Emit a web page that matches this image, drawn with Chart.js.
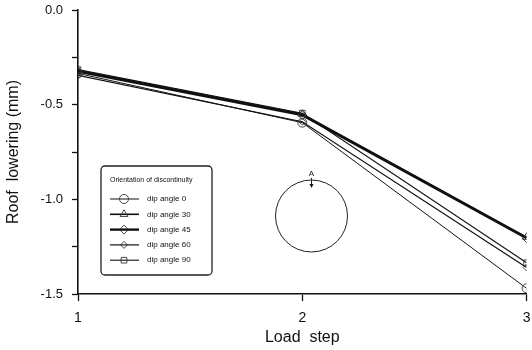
<!DOCTYPE html>
<html>
<head>
<meta charset="utf-8">
<script src="https://cdn.jsdelivr.net/npm/chart.js@4/dist/chart.umd.min.js"></script>
<style>
  html, body { margin: 0; padding: 0; background: #fff; }
  #chart { display: block; }
</style>
</head>
<body>
<canvas id="chart" width="532" height="350"></canvas>
<script>
const loadSteps = [1, 2, 3];
const dipLabels = ['dip angle 0', 'dip angle 30', 'dip angle 45', 'dip angle 60', 'dip angle 90'];
const dip0 = [-0.335, -0.595, -1.47];
const dip30 = [-0.32, -0.55, -1.2];
const dip45 = [-0.325, -0.555, -1.205];
const dip60 = [-0.345, -0.59, -1.36];
const dip90 = [-0.315, -0.545, -1.335];
const yTicks = [0, -0.5, -1.0, -1.5];

const FONT = "'Liberation Sans', Arial, sans-serif";

const seriesValues = [dip0, dip30, dip45, dip60, dip90];
const styles = [
    { pointStyle: 'circle', radius: 4.5, width: 1 },
    { pointStyle: 'triangle', radius: 4.5, width: 1.6 },
    { pointStyle: 'rectRot', radius: 4.5, width: 2.4 },
    { pointStyle: 'rectRot', radius: 3.5, width: 1.2 },
    { pointStyle: 'rect', radius: 4, width: 1.1 },
];

const datasets = seriesValues.map((vals, i) => ({
    label: dipLabels[i],
    data: vals.map((v, j) => ({ x: loadSteps[j], y: v })),
    borderColor: '#111',
    borderWidth: styles[i].width,
    pointStyle: styles[i].pointStyle,
    pointRadius: styles[i].radius,
    pointBorderWidth: 0.9,
    pointBorderColor: '#333',
    pointBackgroundColor: 'rgba(0,0,0,0)',
    fill: false,
    tension: 0,
}));

// boxed legend inside the plot plus the tunnel sketch
const insetPlugin = {
    id: 'inset',
    afterDraw(chart) {
        const ctx = chart.ctx;
        ctx.save();

        // legend frame
        const bx = 101, by = 166, bw = 111, bh = 109, r = 4;
        ctx.beginPath();
        ctx.moveTo(bx + r, by);
        ctx.arcTo(bx + bw, by, bx + bw, by + bh, r);
        ctx.arcTo(bx + bw, by + bh, bx, by + bh, r);
        ctx.arcTo(bx, by + bh, bx, by, r);
        ctx.arcTo(bx, by, bx + bw, by, r);
        ctx.closePath();
        ctx.strokeStyle = '#222';
        ctx.lineWidth = 1.3;
        ctx.stroke();

        ctx.fillStyle = '#111';
        ctx.font = '7px ' + FONT;
        ctx.textBaseline = 'middle';
        ctx.textAlign = 'left';
        ctx.fillText('Orientation of discontinuity', 110, 180);

        chart.data.datasets.forEach((ds, i) => {
            const y = 199 + i * 15.3;
            ctx.beginPath();
            ctx.moveTo(110, y);
            ctx.lineTo(139, y);
            ctx.strokeStyle = '#111';
            ctx.lineWidth = ds.borderWidth;
            ctx.stroke();
            ctx.lineWidth = 0.9;
            ctx.strokeStyle = '#333';
            ctx.fillStyle = 'rgba(0,0,0,0)';
            Chart.helpers.drawPoint(ctx, {
                pointStyle: ds.pointStyle,
                radius: ds.pointRadius,
                rotation: 0,
                borderWidth: 0.9,
            }, 124, y);
            ctx.fillStyle = '#111';
            ctx.font = '8px ' + FONT;
            ctx.fillText(ds.label, 147, y);
        });

        // tunnel cross-section with point A
        ctx.beginPath();
        ctx.arc(311.5, 216, 36, 0, Math.PI * 2);
        ctx.strokeStyle = '#222';
        ctx.lineWidth = 1;
        ctx.stroke();

        ctx.beginPath();
        ctx.moveTo(311.5, 178);
        ctx.lineTo(311.5, 187);
        ctx.lineWidth = 1;
        ctx.stroke();
        ctx.beginPath();
        ctx.moveTo(309.5, 184);
        ctx.lineTo(311.5, 188);
        ctx.lineTo(313.5, 184);
        ctx.closePath();
        ctx.fillStyle = '#111';
        ctx.fill();

        ctx.font = '8px ' + FONT;
        ctx.textAlign = 'center';
        ctx.fillText('A', 311.5, 174);
        ctx.restore();
    }
};

new Chart(document.getElementById('chart'), {
    type: 'line',
    data: { datasets },
    options: {
        responsive: false,
        animation: false,
        layout: { padding: { top: 10, right: 5, left: 0, bottom: 0 } },
        plugins: {
            legend: { display: false },
            tooltip: { enabled: false },
        },
        scales: {
            x: {
                type: 'linear',
                min: 1,
                max: 3,
                ticks: {
                    stepSize: 1,
                    color: '#111',
                    padding: 9,
                    font: { family: FONT, size: 14 },
                    callback: v => Number.isInteger(v) ? String(v) : '',
                },
                grid: { drawOnChartArea: false, tickLength: 7, color: '#111', tickWidth: 1.3 },
                border: { color: '#111', width: 1.6 },
                title: {
                    display: true,
                    text: 'Load  step',
                    color: '#111',
                    font: { family: FONT, size: 16 },
                    padding: { top: 0, bottom: 3 },
                },
                afterFit: s => { s.height = 56; s.paddingLeft = 0; s.paddingRight = 0; },
            },
            y: {
                min: -1.5,
                max: 0,
                ticks: {
                    stepSize: 0.25,
                    color: '#111',
                    padding: 9,
                    font: { family: FONT, size: 13 },
                    callback: v => yTicks.some(t => Math.abs(t - v) < 1e-6) ? v.toFixed(1) : '',
                },
                grid: { drawOnChartArea: false, tickLength: 6, color: '#111', tickWidth: 1.3 },
                border: { color: '#111', width: 1.6 },
                title: {
                    display: true,
                    text: 'Roof  lowering (mm)',
                    color: '#111',
                    font: { family: FONT, size: 16 },
                    padding: { top: 4, bottom: 0 },
                },
                afterFit: s => { s.width = 78; s.paddingTop = 0; s.paddingBottom = 0; },
            },
        },
    },
    plugins: [insetPlugin],
});
</script>
</body>
</html>
